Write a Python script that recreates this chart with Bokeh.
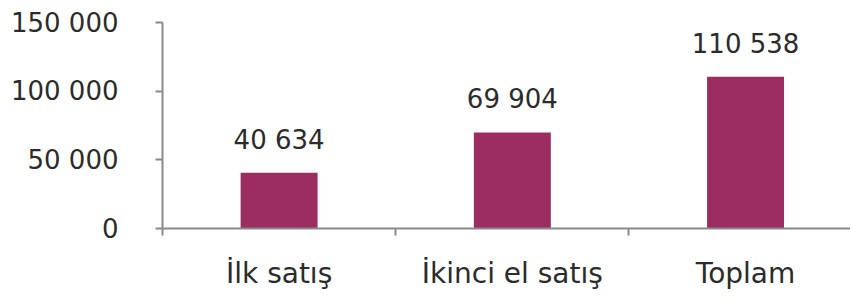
from bokeh.plotting import figure
from bokeh.models import Range1d, FixedTicker, ColumnDataSource
from bokeh.embed import file_html
from bokeh.resources import INLINE

categories = ["İlk satış", "İkinci el satış", "Toplam"]
values = [40634, 69904, 110538]
value_labels = ["40 634", "69 904", "110 538"]
y_ticks = [0, 50000, 100000, 150000]
y_tick_labels = ["0", "50 000", "100 000", "150 000"]

centers = [i + 0.5 for i in range(len(categories))]
bounds = [i for i in range(len(categories) + 1)]

FONT = "DejaVu Sans"
TXT = "#2b2b2b"
AX = "#8a8a8a"
BAR = "#9b2d60"

p = figure(width=850, height=300, output_backend="svg", toolbar_location=None,
           x_range=Range1d(0, 2.95), y_range=Range1d(0, 150000),
           min_border_left=162, min_border_right=0, min_border_top=22, min_border_bottom=72)
p.outline_line_color = None
p.xgrid.visible = False
p.ygrid.visible = False
p.background_fill_color = "white"
p.border_fill_color = "white"

src = ColumnDataSource(dict(x=centers, top=values, lab=value_labels, cat=categories))
p.vbar(x="x", top="top", bottom=0, width=0.33, source=src, fill_color=BAR, line_color=None)
p.text(x="x", y="top", text="lab", source=src, text_align="center", text_baseline="alphabetic",
       y_offset=-33, text_font_size="26px", text_color=TXT, text_font={"value": FONT})

xa = p.xaxis[0]
xa.ticker = FixedTicker(ticks=centers, minor_ticks=bounds)
xa.major_label_overrides = {c: lab for c, lab in zip(centers, categories)}
xa.major_tick_out = 0
xa.major_tick_in = 0
xa.minor_tick_out = 7
xa.minor_tick_in = 0
xa.minor_tick_line_color = AX
xa.axis_line_color = AX
xa.axis_line_width = 2
xa.minor_tick_line_width = 2
xa.major_label_text_font = FONT
xa.major_label_text_font_size = "28px"
xa.major_label_text_color = TXT
xa.major_label_standoff = 21

ya = p.yaxis[0]
ya.ticker = FixedTicker(ticks=y_ticks, minor_ticks=[])
ya.major_label_overrides = {t: lab for t, lab in zip(y_ticks, y_tick_labels)}
ya.major_tick_out = 7
ya.major_tick_in = 0
ya.minor_tick_out = 0
ya.minor_tick_in = 0
ya.major_tick_line_color = AX
ya.major_tick_line_width = 2
ya.axis_line_color = AX
ya.axis_line_width = 2
ya.major_label_text_font = FONT
ya.major_label_text_font_size = "26px"
ya.major_label_text_color = TXT
ya.major_label_standoff = 37

open("out.html", "w").write(file_html(p, INLINE))
